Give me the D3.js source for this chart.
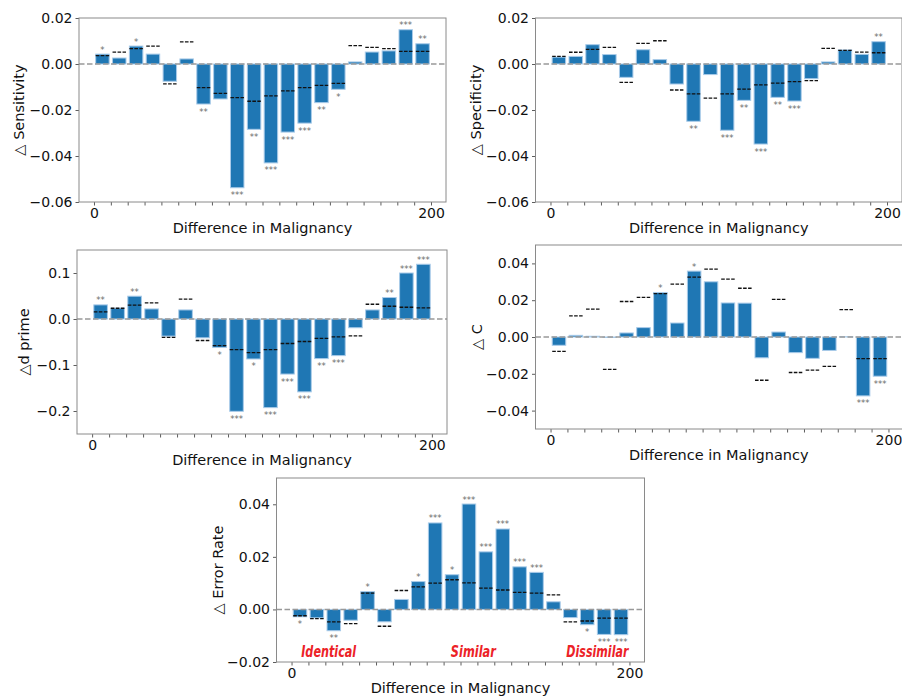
<!DOCTYPE html>
<html>
<head>
<meta charset="utf-8">
<script src="https://cdn.jsdelivr.net/npm/d3@7"></script>
<style>
  html, body { margin: 0; padding: 0; background: #fff; }
  svg { display: block; }
  text { font-family: "DejaVu Sans", sans-serif; }
</style>
</head>
<body>
<svg id="chart" width="902" height="696"></svg>
<script>
// ---------- data ----------
const malignancyDiff = [5,15,25,35,45,55,65,75,85,95,105,115,125,135,145,155,165,175,185,195];

const sensitivity    = [0.0043,0.0026,0.0078,0.0043,-0.0075,0.0022,-0.0174,-0.0152,-0.0538,-0.0284,-0.0430,-0.0296,-0.0257,-0.0168,-0.0110,0.0009,0.0052,0.0057,0.0149,0.0088];
const sensitivityRef = [0.0036,0.0052,0.0067,0.0078,-0.0086,0.0096,-0.0103,-0.0128,-0.0146,-0.0162,-0.0139,-0.0117,-0.0103,-0.0093,-0.0084,0.0080,0.0072,0.0067,0.0055,0.0055];
const sensitivitySig = ["*","","*","","","","**","","***","**","***","***","***","**","*","","","","***","**"];

const specificity    = [0.0030,0.0033,0.0084,0.0041,-0.0058,0.0062,0.0019,-0.0087,-0.0249,-0.0046,-0.0288,-0.0158,-0.0348,-0.0145,-0.0161,-0.0064,0.0009,0.0061,0.0042,0.0097];
const specificityRef = [0.0033,0.0051,0.0064,0.0072,-0.0080,0.0090,0.0101,-0.0113,-0.0130,-0.0148,-0.0130,-0.0109,-0.0091,-0.0083,-0.0077,-0.0072,0.0068,0.0059,0.0052,0.0049];
const specificitySig = ["","","","","","","","","**","","***","**","***","**","***","","","","","**"];

const dprime    = [0.0307,0.0234,0.0496,0.0219,-0.0372,0.0197,-0.0409,-0.0620,-0.2007,-0.0869,-0.1927,-0.1197,-0.1584,-0.0861,-0.0796,-0.0190,0.0197,0.0467,0.1000,0.1190];
const dprimeRef = [0.0153,0.0234,0.0300,0.0350,-0.0400,0.0430,-0.0467,-0.0577,-0.0664,-0.0730,-0.0664,-0.0533,-0.0489,-0.0423,-0.0387,-0.0365,0.0321,0.0277,0.0255,0.0240];
const dprimeSig = ["**","","**","","","","","*","***","*","***","***","***","**","***","","","**","***","***"];

const criterion    = [-0.0045,0.0009,0.0004,-0.0002,0.0022,0.0051,0.0242,0.0076,0.0358,0.0300,0.0185,0.0184,-0.0113,0.0027,-0.0085,-0.0116,-0.0073,0.0001,-0.0320,-0.0213];
const criterionRef = [-0.0078,0.0115,0.0151,-0.0176,0.0193,0.0215,0.0236,0.0287,0.0325,0.0369,0.0315,0.0265,-0.0235,0.0205,-0.0193,-0.0180,-0.0160,0.0149,-0.0118,-0.0118];
const criterionSig = ["","","","","","","*","","*","","","","","","","","","","***","***"];

const errorRate    = [-0.0028,-0.0032,-0.0081,-0.0041,0.0068,-0.0047,0.0038,0.0106,0.0329,0.0132,0.0401,0.0219,0.0306,0.0162,0.0141,0.0029,-0.0031,-0.0058,-0.0095,-0.0096];
const errorRateRef = [-0.0024,-0.0035,-0.0047,-0.0054,0.0062,-0.0064,0.0072,0.0086,0.0100,0.0113,0.0101,0.0081,0.0074,0.0065,0.0062,0.0055,-0.0047,-0.0044,-0.0033,-0.0033];
const errorRateSig = ["*","","**","","*","","","*","***","*","***","***","***","***","***","","","*","***","***"];

const xTickValues = [0,10,20,30,40,50,60,70,80,90,100,110,120,130,140,150,160,170,180,190,200];
const xTickLabels = ["0","","","","","","","","","","","","","","","","","","","","200"];

const sensYTicks = [-0.06,-0.04,-0.02,0.00,0.02];
const dprimeYTicks = [-0.2,-0.1,0.0,0.1];
const cYTicks = [-0.04,-0.02,0.00,0.02,0.04];
const errYTicks = [-0.02,0.00,0.02,0.04];

const regionLabels = ["Identical","Similar","Dissimilar"];
const regionLabelX = [22,107.6,181];
const regionLabelY = -0.0180;

// ---------- layout ----------
const regionLabelWidths = [55, 45, 62];
const panels = [
  {vals: sensitivity, ref: sensitivityRef, sig: sensitivitySig, label: "\u25B3 Sensitivity",
   L: 79, R: 446, T: 18, B: 202, ydom: [-0.06, 0.02], yticks: sensYTicks, fmt: ".2f", labX: 24},
  {vals: specificity, ref: specificityRef, sig: specificitySig, label: "\u25B3 Specificity",
   L: 535.5, R: 902, T: 18, B: 202, ydom: [-0.06, 0.02], yticks: sensYTicks, fmt: ".2f", labX: 481},
  {vals: dprime, ref: dprimeRef, sig: dprimeSig, label: "\u25B3d prime",
   L: 77, R: 447, T: 250, B: 434, ydom: [-0.25, 0.15], yticks: dprimeYTicks, fmt: ".1f", labX: 29},
  {vals: criterion, ref: criterionRef, sig: criterionSig, label: "\u25B3 C",
   L: 535.5, R: 903.5, T: 245, B: 429, ydom: [-0.05, 0.05], yticks: cYTicks, fmt: ".2f", labX: 482},
  {vals: errorRate, ref: errorRateRef, sig: errorRateSig, label: "\u25B3 Error Rate",
   L: 276.5, R: 644.5, T: 478, B: 662, ydom: [-0.02, 0.05], yticks: errYTicks, fmt: ".2f", labX: 223,
   regions: true}
];

const svg = d3.select("#chart");
const barW = 8;
const spineColor = "#8a8a8a";

panels.forEach(p => {
  const x = d3.scaleLinear().domain([-8.9, 208.9]).range([p.L, p.R]);
  const y = d3.scaleLinear().domain(p.ydom).range([p.B, p.T]);
  const g = svg.append("g");

  const clipId = "clip" + Math.round(p.L) + "_" + Math.round(p.T);
  svg.append("clipPath").attr("id", clipId)
    .append("rect").attr("x", p.L).attr("y", p.T).attr("width", p.R - p.L).attr("height", p.B - p.T);
  const plot = g.append("g").attr("clip-path", `url(#${clipId})`);

  const data = malignancyDiff.map((d, i) => ({x: d, v: p.vals[i], r: p.ref[i], s: p.sig[i]}));

  // bars
  plot.selectAll("rect.bar").data(data).enter().append("rect")
    .attr("class", "bar")
    .attr("x", d => x(d.x - barW / 2))
    .attr("width", d => x(d.x + barW / 2) - x(d.x - barW / 2))
    .attr("y", d => y(Math.max(0, d.v)))
    .attr("height", d => Math.abs(y(d.v) - y(0)))
    .attr("fill", "#1f77b4")
    .attr("stroke", "#a9cbe9")
    .attr("stroke-width", 1);

  // reference dashed segments
  plot.selectAll("line.ref").data(data).enter().append("line")
    .attr("x1", d => x(d.x - barW / 2))
    .attr("x2", d => x(d.x + barW / 2))
    .attr("y1", d => y(d.r)).attr("y2", d => y(d.r))
    .attr("stroke", "#111").attr("stroke-width", 1.3)
    .attr("stroke-dasharray", "3.6,1.4");

  // zero line
  plot.append("line")
    .attr("x1", p.L).attr("x2", p.R)
    .attr("y1", y(0)).attr("y2", y(0))
    .attr("stroke", "#999").attr("stroke-width", 1.4)
    .attr("stroke-dasharray", "5.5,2.5");

  // significance stars
  g.selectAll("text.sig").data(data.filter(d => d.s !== "")).enter().append("text")
    .attr("x", d => x(d.x))
    .attr("y", d => d.v >= 0 ? y(d.v) - 1.5 : y(d.v) + 10.5)
    .attr("text-anchor", "middle")
    .attr("font-size", 8.5)
    .attr("fill", "#6a6a6a")
    .text(d => d.s);

  // region annotations
  if (p.regions) {
    regionLabels.forEach((t, i) => {
      g.append("text")
        .attr("x", x(regionLabelX[i]))
        .attr("y", y(regionLabelY) + 0.5)
        .attr("text-anchor", "middle")
        .attr("font-family", "'Open Sans', sans-serif")
        .attr("font-weight", "bold")
        .attr("font-style", "italic")
        .attr("font-size", 15)
        .attr("textLength", regionLabelWidths[i])
        .attr("lengthAdjust", "spacingAndGlyphs")
        .attr("fill", "#ec2227")
        .text(t);
    });
  }

  // axes
  const xAxis = d3.axisBottom(x)
    .tickValues(xTickValues)
    .tickFormat((d, i) => xTickLabels[i])
    .tickSize(3.5).tickPadding(2.5).tickSizeOuter(0);
  const xg = g.append("g").attr("transform", `translate(0,${p.B})`).call(xAxis);
  xg.select(".domain").remove();
  xg.selectAll("line").attr("stroke", "#333").attr("stroke-width", 0.8);
  xg.selectAll("text").attr("font-size", 14).attr("fill", "#111")
    .attr("font-family", "'DejaVu Sans', sans-serif");

  const yAxis = d3.axisLeft(y)
    .tickValues(p.yticks)
    .tickFormat(d3.format(p.fmt))
    .tickSize(3.5).tickPadding(3).tickSizeOuter(0);
  const yg = g.append("g").attr("transform", `translate(${p.L},0)`).call(yAxis);
  yg.select(".domain").remove();
  yg.selectAll("line").attr("stroke", "#333").attr("stroke-width", 0.8);
  yg.selectAll("text").attr("font-size", 14).attr("fill", "#111")
    .attr("font-family", "'DejaVu Sans', sans-serif");

  // frame
  g.append("rect")
    .attr("x", p.L).attr("y", p.T)
    .attr("width", p.R - p.L).attr("height", p.B - p.T)
    .attr("fill", "none").attr("stroke", spineColor).attr("stroke-width", 1);

  // axis labels
  g.append("text")
    .attr("x", (p.L + Math.min(p.R, 902)) / 2)
    .attr("y", p.B + 31)
    .attr("text-anchor", "middle")
    .attr("font-size", 14.5)
    .attr("fill", "#111")
    .text("Difference in Malignancy");

  g.append("text")
    .attr("transform", `translate(${p.labX},${(p.T + p.B) / 2}) rotate(-90)`)
    .attr("text-anchor", "middle")
    .attr("font-size", 14.5)
    .attr("fill", "#111")
    .text(p.label);
});
</script>
</body>
</html>
